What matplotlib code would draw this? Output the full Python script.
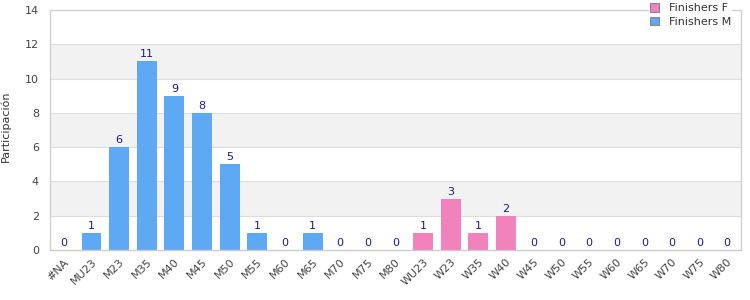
import matplotlib.pyplot as plt
from matplotlib.patches import Patch

plt.rcParams["font.family"] = ["DejaVu Sans"]

categories = ["#NA", "MU23", "M23", "M35", "M40", "M45", "M50", "M55", "M60", "M65",
              "M70", "M75", "M80", "WU23", "W23", "W35", "W40", "W45", "W50", "W55",
              "W60", "W65", "W70", "W75", "W80"]
finishers_m = [0, 1, 6, 11, 9, 8, 5, 1, 0, 1, 0, 0, 0]
finishers_f = [1, 3, 1, 2, 0, 0, 0, 0, 0, 0, 0, 0]
y_ticks = [0, 2, 4, 6, 8, 10, 12, 14]

blue = "#5fa8f4"
pink = "#f282bb"
label_color = "#1a1a96"
tick_color = "#444444"

fig = plt.figure(figsize=(7.5, 3), dpi=100)
ax = fig.add_axes([50 / 750, 50 / 300, 691 / 750, 240 / 300])

# alternating bands
for i in range(len(y_ticks) - 1):
    if i % 2 == 1:
        ax.axhspan(y_ticks[i], y_ticks[i + 1], color="#f2f2f2", zorder=0, lw=0)
for t in y_ticks[1:]:
    ax.axhline(t, color="#dddddd", lw=0.8, zorder=1)

xm = list(range(len(finishers_m)))
xf = list(range(len(finishers_m), len(categories)))
ax.bar(xm, finishers_m, width=0.72, color=blue, zorder=2)
ax.bar(xf, finishers_f, width=0.72, color=pink, zorder=2)

for x, v in zip(xm + xf, finishers_m + finishers_f):
    ax.text(x, v + 0.12, str(v), ha="center", va="bottom", fontsize=8,
            color=label_color, zorder=3)

ax.set_xlim(-0.5, len(categories) - 0.5)
ax.set_ylim(0, 14)
ax.set_yticks(y_ticks)
ax.set_xticks(range(len(categories)))
ax.set_xticklabels(categories, rotation=45, ha="right", rotation_mode="anchor")
ax.tick_params(axis="both", length=0, colors=tick_color, labelsize=8)
ax.tick_params(axis="x", pad=5)
ax.tick_params(axis="y", pad=8)

for s in ax.spines.values():
    s.set_color("#d0d0d0")
    s.set_linewidth(1)
ax.spines["bottom"].set_color("#cccccc")

fig.text(0.001, 0.58, "Participación", rotation=90, ha="left", va="center",
         fontsize=8, color="#333333")

handles = [Patch(facecolor=pink, edgecolor="#888888", lw=0.8, label="Finishers F"),
           Patch(facecolor=blue, edgecolor="#888888", lw=0.8, label="Finishers M")]
leg = fig.legend(handles=handles, loc="upper left", bbox_to_anchor=(643 / 750, 1.012),
                 frameon=True, fontsize=8, handlelength=0.8, handleheight=0.8,
                 handletextpad=0.9, labelspacing=0.3, borderpad=0.1,
                 labelcolor="#333333")
leg.get_frame().set_facecolor("white")
leg.get_frame().set_edgecolor("none")
leg.get_frame().set_alpha(1)
leg.set_zorder(10)

fig.savefig("out.png", dpi=100, facecolor="white")
